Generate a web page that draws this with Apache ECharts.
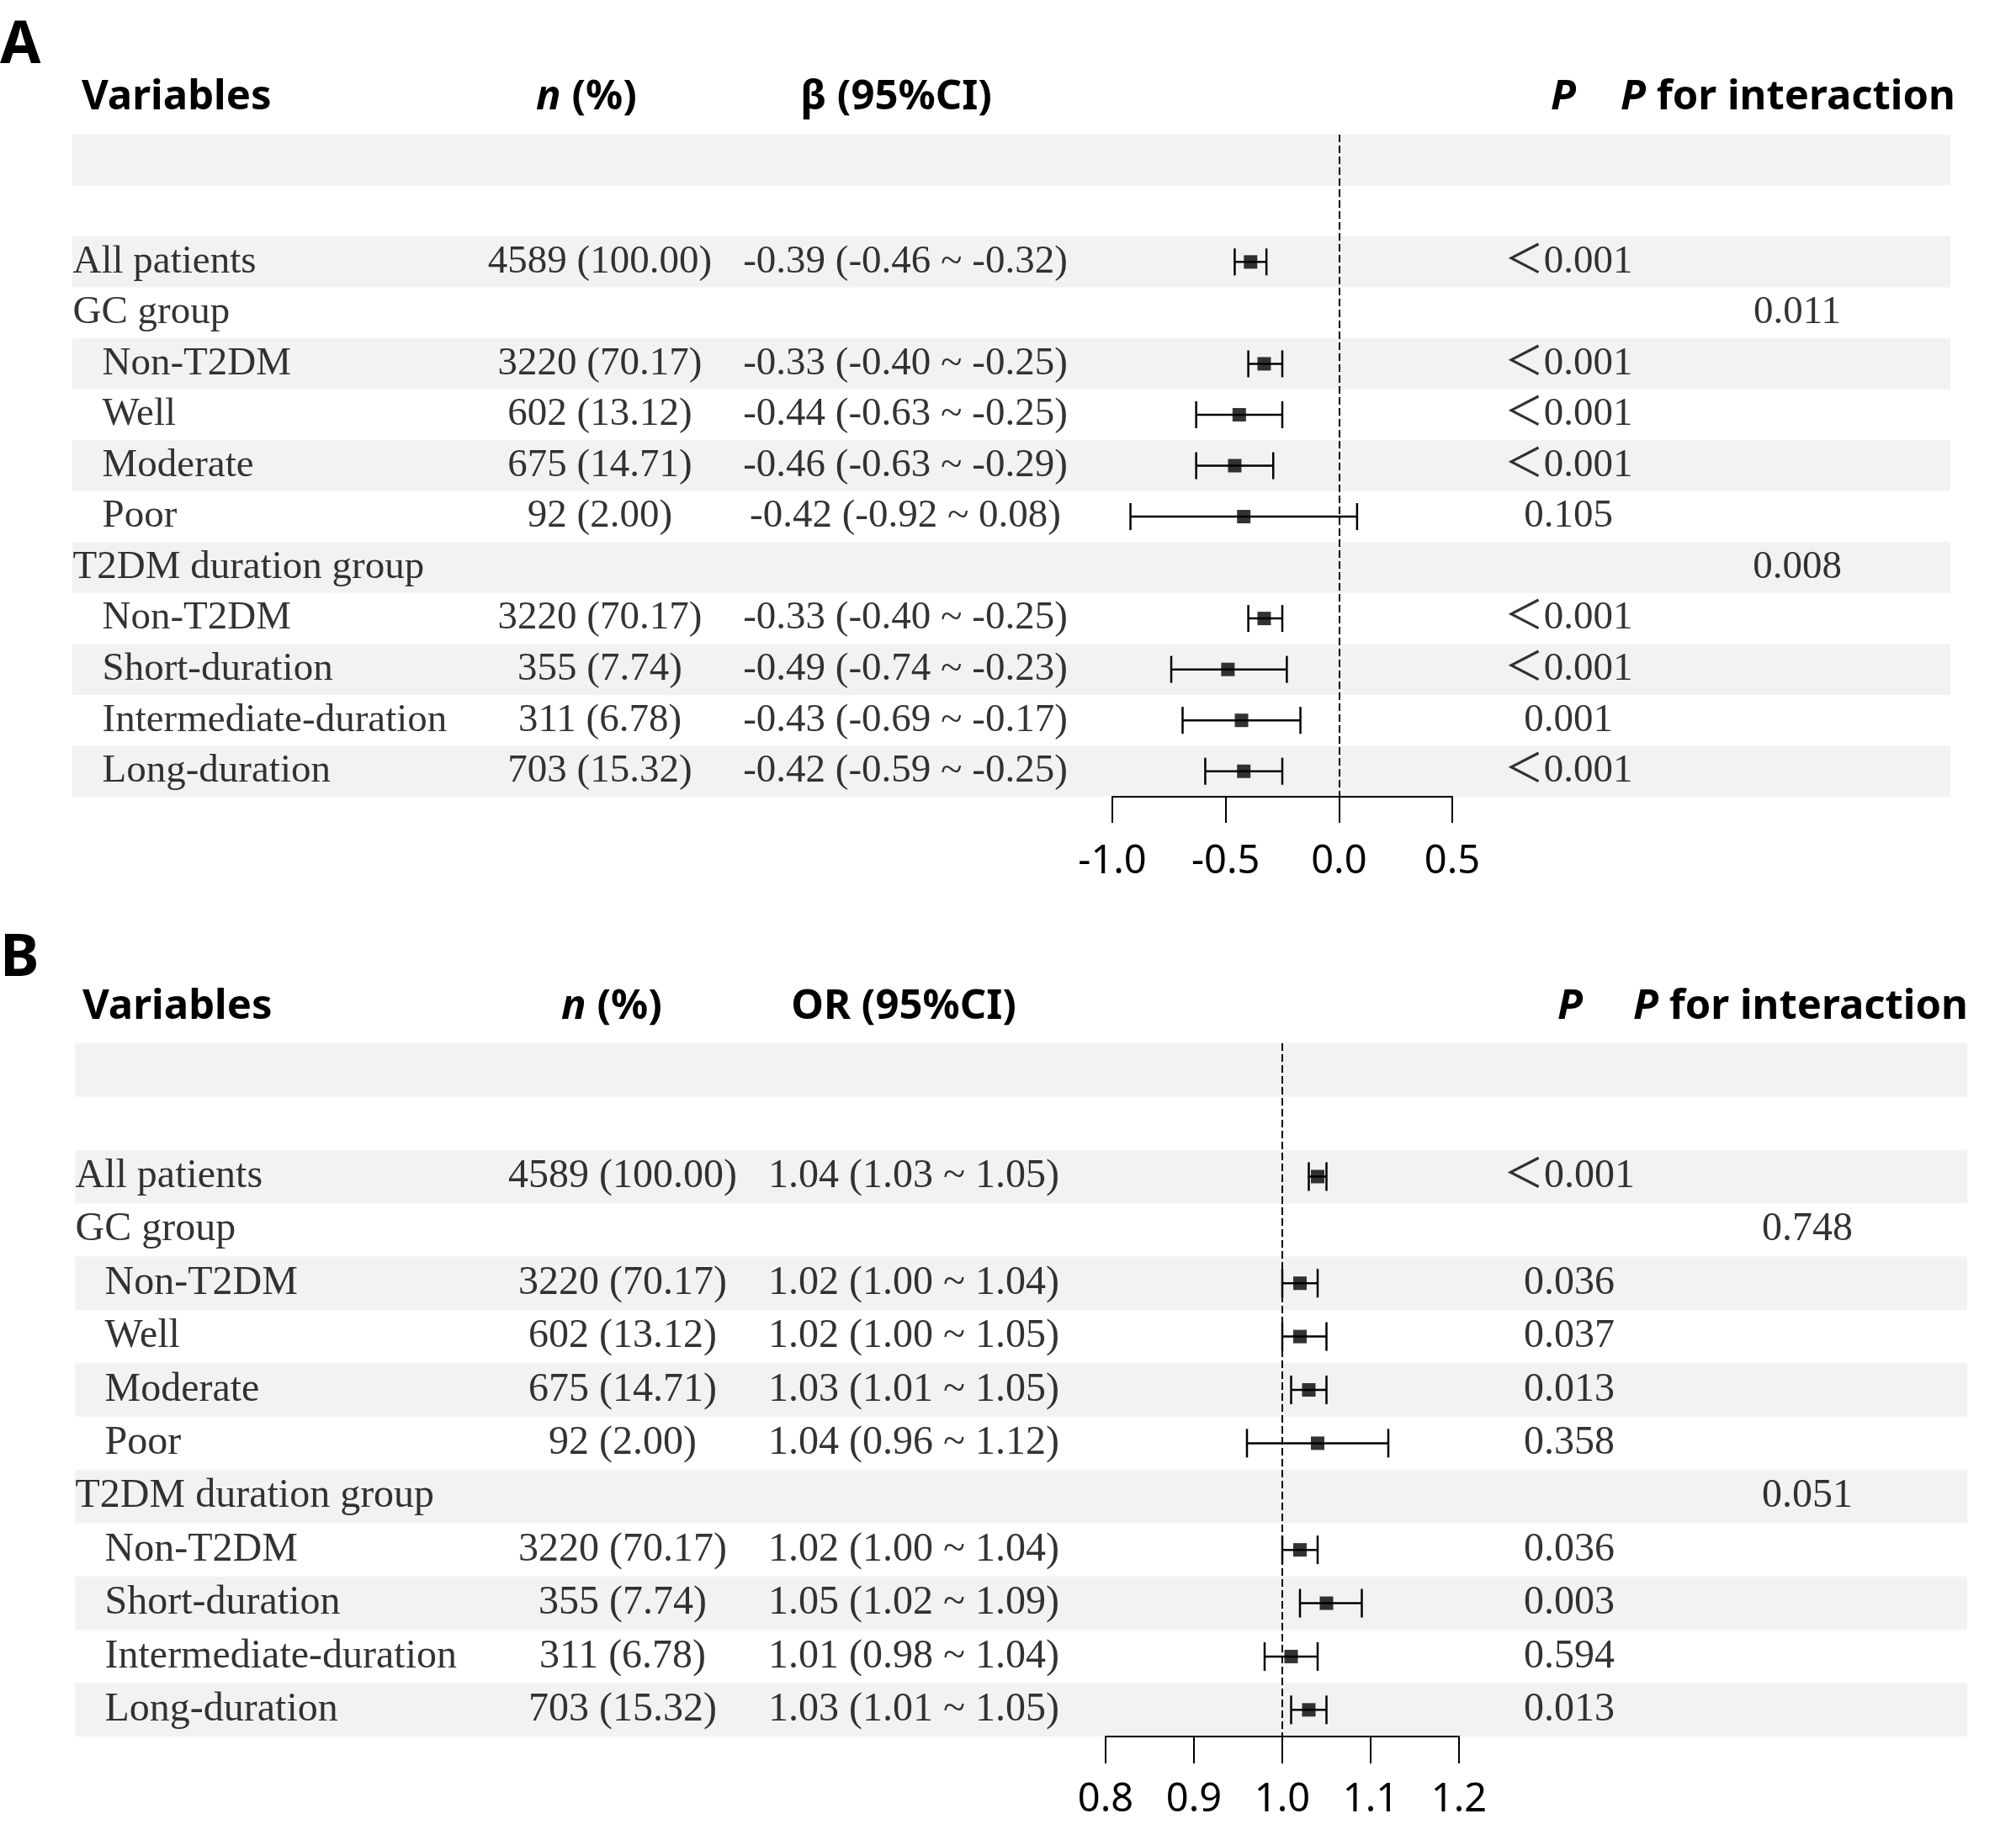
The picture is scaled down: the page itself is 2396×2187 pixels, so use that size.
<!DOCTYPE html>
<html>
<head>
<meta charset="utf-8">
<script src="https://cdn.jsdelivr.net/npm/echarts@6/dist/echarts.min.js"></script>
<style>
  html, body { margin: 0; padding: 0; background: #fff; }
  #main { width: 2396px; height: 2187px; }
</style>
</head>
<body>
<div id="main"></div>
<script>
// ---- data ----
var variables = ['All patients', 'GC group', 'Non-T2DM', 'Well', 'Moderate', 'Poor',
  'T2DM duration group', 'Non-T2DM', 'Short-duration', 'Intermediate-duration', 'Long-duration'];
var isSubgroup = [false, false, true, true, true, true, false, true, true, true, true];
var nCount   = [4589, null, 3220, 602, 675, 92, null, 3220, 355, 311, 703];
var nPercent = [100.00, null, 70.17, 13.12, 14.71, 2.00, null, 70.17, 7.74, 6.78, 15.32];

var betaEst  = [-0.39, null, -0.33, -0.44, -0.46, -0.42, null, -0.33, -0.49, -0.43, -0.42];
var betaLow  = [-0.46, null, -0.40, -0.63, -0.63, -0.92, null, -0.40, -0.74, -0.69, -0.59];
var betaHigh = [-0.32, null, -0.25, -0.25, -0.29, 0.08, null, -0.25, -0.23, -0.17, -0.25];
var betaP    = ['＜0.001', '', '＜0.001', '＜0.001', '＜0.001', '0.105', '', '＜0.001', '＜0.001', '0.001', '＜0.001'];
var betaPInt = ['', '0.011', '', '', '', '', '0.008', '', '', '', ''];
var betaTicks = [-1.0, -0.5, 0.0, 0.5];
var betaRef = 0;

var orEst  = [1.04, null, 1.02, 1.02, 1.03, 1.04, null, 1.02, 1.05, 1.01, 1.03];
var orLow  = [1.03, null, 1.00, 1.00, 1.01, 0.96, null, 1.00, 1.02, 0.98, 1.01];
var orHigh = [1.05, null, 1.04, 1.05, 1.05, 1.12, null, 1.04, 1.09, 1.04, 1.05];
var orP    = ['＜0.001', '', '0.036', '0.037', '0.013', '0.358', '', '0.036', '0.003', '0.594', '0.013'];
var orPInt = ['', '0.748', '', '', '', '', '0.051', '', '', '', ''];
var orTicks = [0.8, 0.9, 1.0, 1.1, 1.2];
var orRef = 1;

var BLANK_ROWS = 2;               // empty striped rows above the first variable
var ROWS = BLANK_ROWS + variables.length;

// ---- layout ----
var W = 2396;
var SERIF = 'Liberation Serif, Noto Sans CJK SC';
var SANS = 'Noto Sans';
var HEAD_SIZE = 49;

var panels = [
  {
    letter: 'A', letterY: 55, headY: 116, top: 160, height: 787,
    stripeL: 86, stripeR: 2318, axisL: 1322, axisR: 1726,
    varX: 86, subX: 121, nX: 713, ciX: 1076, pX: 1864, piX: 2136,
    fontSize: 47, capH: 32, tickLen: 31, labelMargin: 54,
    heads: [
      { text: '{b|Variables}', x: 97, align: 'left' },
      { text: '{i|n}{b| (%)}', x: 697, align: 'center' },
      { text: '{b|β (95%CI)}', x: 1065, align: 'center' },
      { text: '{i|P}', x: 1858, align: 'center' },
      { text: '{i|P}{b| for interaction}', x: 2125, align: 'center' }
    ],
    est: betaEst, low: betaLow, high: betaHigh, p: betaP, pInt: betaPInt,
    ticks: betaTicks, ref: betaRef
  },
  {
    letter: 'B', letterY: 1140, headY: 1197, top: 1240, height: 824,
    stripeL: 89, stripeR: 2338, axisL: 1314, axisR: 1734,
    varX: 89, subX: 124, nX: 740, ciX: 1086, pX: 1865, piX: 2148,
    fontSize: 48, capH: 34, tickLen: 32, labelMargin: 52,
    heads: [
      { text: '{b|Variables}', x: 98, align: 'left' },
      { text: '{i|n}{b| (%)}', x: 727, align: 'center' },
      { text: '{b|OR (95%CI)}', x: 1074, align: 'center' },
      { text: '{i|P}', x: 1866, align: 'center' },
      { text: '{i|P}{b| for interaction}', x: 2140, align: 'center' }
    ],
    est: orEst, low: orLow, high: orHigh, p: orP, pInt: orPInt,
    ticks: orTicks, ref: orRef
  }
];

function rowCats() {
  var c = [];
  for (var i = 0; i < ROWS; i++) c.push('r' + i);
  return c;
}

function headRich(size) {
  return {
    b: { fontFamily: SANS, fontWeight: 'bold', fontStyle: 'normal', fontSize: size, fill: '#000', color: '#000' },
    i: { fontFamily: SANS, fontWeight: 'bold', fontStyle: 'italic', fontSize: size, fill: '#000', color: '#000' }
  };
}

var grid = [], xAxis = [], yAxis = [], series = [], graphic = [];

panels.forEach(function (p, k) {
  var gTable = k * 2, gForest = k * 2 + 1;

  grid.push({ left: 0, width: W, top: p.top, height: p.height, containLabel: false });
  grid.push({ left: p.axisL, width: p.axisR - p.axisL, top: p.top, height: p.height, containLabel: false });

  xAxis.push({ gridIndex: gTable, type: 'value', min: 0, max: W, show: false });
  var t0 = p.ticks[0], tN = p.ticks[p.ticks.length - 1];
  var step = Math.round((p.ticks[1] - p.ticks[0]) * 1e6) / 1e6;
  xAxis.push({
    gridIndex: gForest, type: 'value', min: t0, max: tN, interval: step,
    splitLine: { show: false },
    axisLine: { show: true, lineStyle: { color: '#000', width: 2 } },
    axisTick: { show: true, length: p.tickLen, lineStyle: { color: '#000', width: 2 } },
    axisLabel: {
      color: '#000', fontFamily: SANS, fontSize: 47, margin: p.labelMargin,
      formatter: function (v) { return v.toFixed(1); }
    }
  });
  yAxis.push({ gridIndex: gTable, type: 'category', data: rowCats(), inverse: true, show: false });
  yAxis.push({ gridIndex: gForest, type: 'category', data: rowCats(), inverse: true, show: false });

  // alternating grey stripes
  var stripes = [];
  for (var r = 0; r < ROWS; r += 2) stripes.push([p.stripeL, r, p.stripeR]);
  series.push({
    type: 'custom', xAxisIndex: gTable, yAxisIndex: gTable, silent: true, z: 0,
    data: stripes, encode: { x: [0, 2], y: 1 },
    renderItem: function (params, api) {
      var a = api.coord([api.value(0), api.value(1)]);
      var b = api.coord([api.value(2), api.value(1)]);
      var h = api.size([0, 1])[1];
      return { type: 'rect', shape: { x: a[0], y: a[1] - h / 2, width: b[0] - a[0], height: h },
        style: { fill: '#f2f2f2' } };
    }
  });

  // text columns
  function textSeries(items, pos) {
    return {
      type: 'scatter', xAxisIndex: gTable, yAxisIndex: gTable, silent: true, z: 3,
      symbolSize: 1, itemStyle: { color: 'rgba(0,0,0,0)' },
      data: items,
      label: {
        show: true, position: pos, distance: 0, formatter: '{b}',
        color: '#000', fontFamily: SERIF, fontSize: p.fontSize
      }
    };
  }
  var varItems = [], nItems = [], ciItems = [], pItems = [], piItems = [];
  variables.forEach(function (v, i) {
    var row = i + BLANK_ROWS;
    varItems.push({ name: v, value: [isSubgroup[i] ? p.subX : p.varX, row] });
    if (nCount[i] != null) {
      nItems.push({ name: nCount[i] + ' (' + nPercent[i].toFixed(2) + ')', value: [p.nX, row] });
    }
    if (p.est[i] != null) {
      ciItems.push({
        name: p.est[i].toFixed(2) + ' (' + p.low[i].toFixed(2) + ' ~ ' + p.high[i].toFixed(2) + ')',
        value: [p.ciX, row]
      });
    }
    if (p.p[i]) pItems.push({ name: p.p[i], value: [p.pX, row] });
    if (p.pInt[i]) piItems.push({ name: p.pInt[i], value: [p.piX, row] });
  });
  series.push(textSeries(varItems, 'right'));
  series.push(textSeries(nItems, 'inside'));
  series.push(textSeries(ciItems, 'inside'));
  series.push(textSeries(pItems, 'inside'));
  series.push(textSeries(piItems, 'inside'));

  // confidence interval whiskers
  var ciData = [], ptData = [];
  p.est.forEach(function (e, i) {
    if (e == null) return;
    ciData.push([p.low[i], p.high[i], i + BLANK_ROWS]);
    ptData.push([e, i + BLANK_ROWS]);
  });
  var capH = p.capH;
  series.push({
    type: 'custom', xAxisIndex: gForest, yAxisIndex: gForest, silent: true, z: 4, clip: false,
    data: ciData, encode: { x: [0, 1], y: 2 },
    renderItem: function (params, api) {
      var l = api.coord([api.value(0), api.value(2)]);
      var r = api.coord([api.value(1), api.value(2)]);
      var c = capH / 2;
      var st = { stroke: '#000', lineWidth: 2.5 };
      return {
        type: 'group', children: [
          { type: 'line', shape: { x1: l[0], y1: l[1], x2: r[0], y2: r[1] }, style: st },
          { type: 'line', shape: { x1: l[0], y1: l[1] - c, x2: l[0], y2: l[1] + c }, style: st },
          { type: 'line', shape: { x1: r[0], y1: r[1] - c, x2: r[0], y2: r[1] + c }, style: st }
        ]
      };
    }
  });
  series.push({
    type: 'scatter', xAxisIndex: gForest, yAxisIndex: gForest, silent: true, z: 5,
    symbol: 'rect', symbolSize: 16, itemStyle: { color: '#000' },
    data: ptData,
    markLine: {
      silent: true, symbol: 'none', animation: false,
      label: { show: false },
      lineStyle: { color: '#000', width: 2, type: [9, 4] },
      data: [{ xAxis: p.ref }]
    }
  });

  // panel letter and column headers
  graphic.push({
    type: 'text', x: 0, y: p.letterY,
    style: { text: p.letter, fill: '#000', font: 'bold 70px "Noto Sans"',
      align: 'left', verticalAlign: 'middle', textAlign: 'left', textVerticalAlign: 'middle' }
  });
  p.heads.forEach(function (h) {
    graphic.push({
      type: 'text', x: h.x, y: p.headY,
      style: { text: h.text, rich: headRich(HEAD_SIZE), fill: '#000',
        font: 'bold ' + HEAD_SIZE + 'px "Noto Sans"',
        align: h.align, verticalAlign: 'middle', textAlign: h.align, textVerticalAlign: 'middle' }
    });
  });
});

var chart = echarts.init(document.getElementById('main'));
chart.setOption({
  backgroundColor: '#fff',
  animation: false,
  grid: grid,
  xAxis: xAxis,
  yAxis: yAxis,
  series: series,
  graphic: graphic
});
</script>
</body>
</html>
